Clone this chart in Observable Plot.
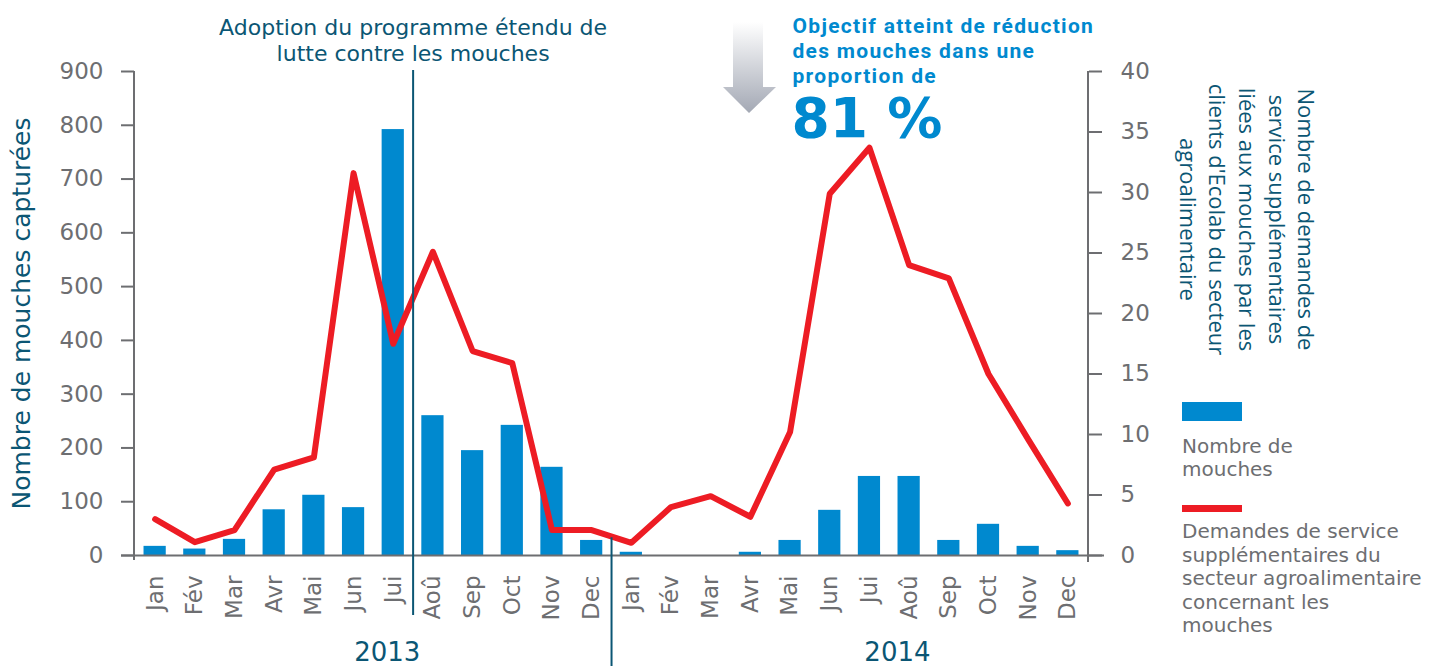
<!DOCTYPE html>
<html><head><meta charset="utf-8">
<script src="https://cdn.jsdelivr.net/npm/d3@7"></script>
<script src="https://cdn.jsdelivr.net/npm/@observablehq/plot@0.6"></script>
<style>
body{margin:0;background:#fff;}
#wrap{position:relative;width:1440px;height:666px;overflow:hidden;}
.leg{position:absolute;left:1182px;font-family:"DejaVu Sans";font-size:20px;color:#6d6e71;}
.sw{position:absolute;left:1182px;width:60px;}
</style></head><body><div id="wrap"></div>
<script>
const months = ["Jan","Fév","Mar","Avr","Mai","Jun","Jui","Aoû","Sep","Oct","Nov","Dec"];
const years = ["2013","2014"];
const flies2013 = [17,12,30,85,112,89,792,260,195,242,164,28];
const flies2014 = [6,0,0,6,28,84,147,147,28,58,17,9];
const requests2013 = [3.0,1.1,2.1,7.1,8.1,31.6,17.5,25.1,16.9,15.9,2.1,2.1];
const requests2014 = [1.05,4.0,4.9,3.2,10.2,29.9,33.7,24.0,22.9,15.0,9.6,4.3];
const leftTicks = [0,100,200,300,400,500,600,700,800,900];
const rightTicks = [0,5,10,15,20,25,30,35,40];
const leftTitle = "Nombre de mouches capturées";
const rightTitle = "Nombre de demandes de\nservice supplémentaires\nliées aux mouches par les\nclients d'Ecolab du secteur\nagroalimentaire";
const note1 = "Adoption du programme étendu de\nlutte contre les mouches";
const note2 = "Objectif atteint de réduction\ndes mouches dans une\nproportion de";
const note2big = "81 %";
const legend1 = "Nombre de<br>mouches";
const legend2 = "Demandes de service<br>supplémentaires du<br>secteur agroalimentaire<br>concernant les<br>mouches";

const ratio = 900/40;
const data = [];
years.forEach((yr, i) => months.forEach((m, j) => data.push({
  key: yr + "-" + m, month: m, year: yr,
  flies: (i ? flies2014 : flies2013)[j],
  req: (i ? requests2014 : requests2013)[j]
})));

const teal = "#0b5674", blue = "#0089cf", red = "#ed1c24", gray = "#6d6e71";
const W = 1440, H = 666, mL = 134, mR = 352, mT = 71, mB = 111;
const step = (W - mL - mR) / 24;

const plot = Plot.plot({
  width: W, height: H,
  marginLeft: mL, marginRight: mR, marginTop: mT, marginBottom: mB,
  style: {fontFamily: "DejaVu Sans", fontSize: "23px", color: gray, background: "#fff", overflow: "visible"},
  x: {domain: data.map(d => d.key), paddingInner: 0.44, paddingOuter: 0.24, round: false},
  y: {domain: [0, 900]},
  marks: [
    Plot.barY(data, {x: "key", y: "flies", fill: blue}),
    Plot.ruleY([0], {stroke: gray, strokeWidth: 2, insetLeft: -13, insetRight: -16}),
    Plot.axisY(leftTicks, {anchor: "left", tickSize: 13, tickPadding: 18, label: null, stroke: gray, strokeWidth: 2, fill: gray, fontSize: 23}),
    Plot.axisY(rightTicks.map(v => v * ratio), {anchor: "right", tickSize: 13, tickPadding: 19, label: null, stroke: gray, strokeWidth: 2, fill: gray, fontSize: 23, tickFormat: d => Math.round(d / ratio)}),
    Plot.axisX({anchor: "bottom", tickSize: 0, tickPadding: 20, tickRotate: -90, label: null, fill: gray, fontSize: 23, tickFormat: k => k.split("-")[1]}),
    Plot.line(data, {x: "key", y: d => d.req * ratio, stroke: red, strokeWidth: 6, strokeLinejoin: "round", strokeLinecap: "round"}),
    Plot.ruleX(["2013-Jui"], {dx: step / 2, stroke: teal, strokeWidth: 2, insetTop: -1, insetBottom: -60}),
    Plot.ruleX(["2013-Dec"], {dx: step / 2, y1: 33, y2: 0, stroke: teal, strokeWidth: 2, insetBottom: -111}),
    Plot.text([years[0]], {x: () => "2013-Jui", dx: -6, frameAnchor: "bottom", dy: 105, lineAnchor: "bottom", fill: teal, fontSize: 26}),
    Plot.text([years[1]], {x: () => "2014-Jui", dx: 28, frameAnchor: "bottom", dy: 105, lineAnchor: "bottom", fill: teal, fontSize: 26}),
    Plot.text([note1], {x: () => "2013-Jui", dx: step / 2, frameAnchor: "top", dy: -55, lineAnchor: "top", textAnchor: "middle", fill: teal, fontSize: 22, lineHeight: 1.18}),
    Plot.text([note2], {frameAnchor: "top-left", dx: 658, dy: -56, lineAnchor: "top", textAnchor: "start", fill: blue, fontSize: 21, fontWeight: "bold", fontFamily: "Roboto", lineHeight: 1.18}),
    Plot.text([note2big], {frameAnchor: "top-left", dx: 657, dy: 26, lineAnchor: "top", textAnchor: "start", fill: blue, fontSize: 55, fontWeight: "bold", fontFamily: "DejaVu Sans"}),
    Plot.text([leftTitle], {frameAnchor: "left", dx: -113, rotate: -90, textAnchor: "middle", lineAnchor: "middle", fill: teal, fontSize: 25}),
    Plot.text([rightTitle], {frameAnchor: "right", dx: 160, dy: -94, rotate: 90, textAnchor: "middle", lineAnchor: "middle", fill: teal, fontSize: 22, fontFamily: "Open Sans", lineHeight: 1.35})
  ]
});

// axis lines and arrow decoration
const svg = d3.select(plot);
svg.selectAll("text").filter(function() { return this.textContent.startsWith("Objectif"); }).style("letter-spacing", "1.3px");
const ys = plot.scale("y"), xs = plot.scale("x");
const [x0, x1] = xs.range;
const yTop = ys.apply(900), yBot = ys.apply(0);
svg.append("line").attr("x1", x0).attr("x2", x0).attr("y1", yTop).attr("y2", yBot + 5).attr("stroke", gray).attr("stroke-width", 2);
svg.append("line").attr("x1", x1).attr("x2", x1).attr("y1", yTop).attr("y2", yBot + 7).attr("stroke", gray).attr("stroke-width", 2);
const defs = svg.append("defs");
const g = defs.append("linearGradient").attr("id", "ag").attr("x1", 0).attr("y1", 0).attr("x2", 0).attr("y2", 1);
g.append("stop").attr("offset", "0%").attr("stop-color", "#ffffff");
g.append("stop").attr("offset", "100%").attr("stop-color", "#a3a8b4");
svg.append("path").attr("d", "M733,22 L763,22 L763,87 L776,87 L749,113 L723,87 L733,87 Z").attr("fill", "url(#ag)");

const wrap = document.getElementById("wrap");
wrap.appendChild(plot);
function add(html) { const d = document.createElement("div"); d.innerHTML = html; wrap.appendChild(d.firstChild); }
add(`<div class="sw" style="top:402px;height:19px;background:${blue}"></div>`);
add(`<div class="sw" style="top:505px;height:7px;background:${red}"></div>`);
add(`<div class="leg" style="top:435px;line-height:23px">${legend1}</div>`);
add(`<div class="leg" style="top:520px;line-height:23.5px">${legend2}</div>`);
</script></body></html>
